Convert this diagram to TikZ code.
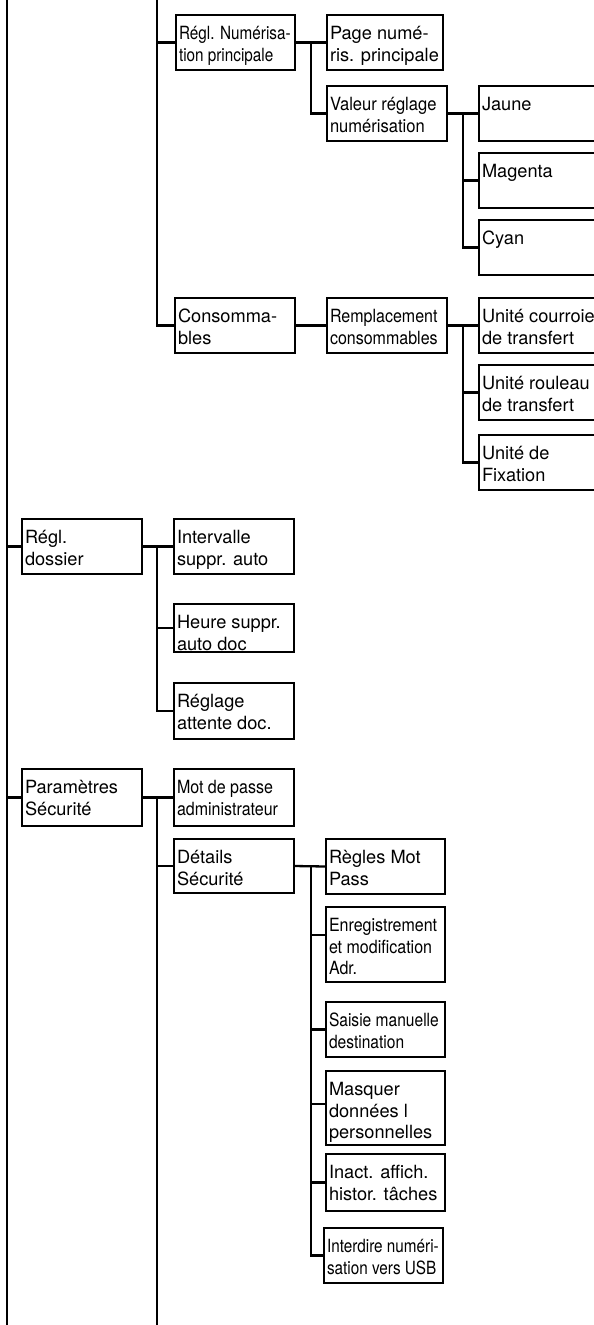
\documentclass[tikz,border=0pt]{standalone}
\usepackage{fontspec}
\setmainfont{TeX Gyre Heros}
\newfontfamily\cnda[FakeStretch=0.84]{TeX Gyre Heros}
\newfontfamily\cndb[FakeStretch=0.88]{TeX Gyre Heros}
\newfontfamily\cndc[FakeStretch=0.91]{TeX Gyre Heros}
\newfontfamily\cndd[FakeStretch=0.855]{TeX Gyre Heros}
\usetikzlibrary{calc}
\newcommand\bt[3]{\parbox[t][#2pt][t]{#1pt}{\raggedright\hyphenpenalty=10000\rule{0pt}{24.5pt}#3}}
\tikzset{
  box/.style={draw, line width=2.3pt, anchor=north west, inner xsep=3pt, inner ysep=0pt, outer sep=0pt,
    font=\fontsize{18.2pt}{21.5pt}\selectfont},
  wire/.style={line width=2.3pt}
}
\begin{document}
\begin{tikzpicture}[x=1pt,y=-1pt]
\useasboundingbox (0,0) rectangle (594,1325);
\clip (0,0) rectangle (594,1325);
% boxes
\node[box] (rn) at (176,15) {\bt{113}{55}{\cnda Régl. Numérisa-\\tion principale}};
\node[box] (pn) at (327,15) {\bt{110}{55}{Page numé-\\ris. principale}};
\node[box] (vr) at (327,86) {\bt{114}{55}{\cndc Valeur réglage\\numérisation}};
\node[box] (ja) at (479,86) {\bt{124}{55}{Jaune}};
\node[box] (mg) at (479,153) {\bt{124}{55}{Magenta}};
\node[box] (cy) at (479,220) {\bt{124}{55}{Cyan}};
\node[box] (co) at (175,298) {\bt{114}{55}{Consomma-\\bles}};
\node[box] (rc) at (327,298) {\bt{114}{55}{\cndb Remplacement\\consommables}};
\node[box] (u1) at (479,298) {\bt{124}{55}{Unité courroie\\de transfert}};
\node[box] (u2) at (479,365) {\bt{124}{55}{Unité rouleau\\de transfert}};
\node[box] (u3) at (479,435) {\bt{124}{55}{Unité de\\Fixation}};
\node[box] (rd) at (22,519) {\bt{114}{55}{Régl.\\dossier}};
\node[box] (iv) at (174,519) {\bt{114}{55}{Intervalle\\suppr. auto}};
\node[box] (hs) at (174,604) {\bt{114}{48}{Heure suppr.\\auto doc}};
\node[box] (ra) at (174,683) {\bt{114}{56}{Réglage\\attente doc.}};
\node[box] (ps) at (22,769) {\bt{114}{57}{Paramètres\\Sécurité}};
\node[box] (mp) at (174,769) {\bt{114}{57}{\cndb Mot de passe\\administrateur}};
\node[box] (ds) at (174,839) {\bt{114}{54}{Détails\\Sécurité}};
\node[box] (rm) at (326,839) {\bt{113}{55}{Règles Mot\\Pass}};
\node[box] (en) at (326,907) {\bt{113}{75}{\cndb Enregistrement\\et modification\\Adr.}};
\node[box] (sm) at (326,1002) {\bt{113}{55}{\cndd Saisie manuelle\\destination}};
\node[box] (md) at (326,1071) {\bt{113}{74}{Masquer\\données l\\personnelles}};
\node[box] (ia) at (326,1154) {\bt{113}{57}{Inact. affich.\\histor. tâches}};
\node[box] (ib) at (324,1228) {\bt{113}{55}{\cnda Interdire numéri-\\sation vers USB}};
% bus coordinates
\coordinate (sp0) at (7,0);
\coordinate (sp1) at (7,1325);
\coordinate (b0) at (157,0);
\coordinate (bb) at (157,1325);
\coordinate (b1) at (311,0);
\coordinate (b2) at (463,0);
\coordinate (enc) at ([yshift=-28pt]en.north west);
\coordinate (mdc) at ([yshift=-33pt]md.north west);
% connectors
\draw[wire] (sp0) -- (sp1);
\draw[wire] (sp0) |- (rd.west);
\draw[wire] (sp0) |- (ps.west);
\draw[wire] (b0) |- (rn.west);
\draw[wire] (b0) |- (co.west);
\draw[wire] (rn.east) -- (pn.west);
\draw[wire] (rn.east -| b1) |- (vr.west);
\draw[wire] (vr.east) -- (ja.west);
\draw[wire] (vr.east -| b2) |- (cy.west);
\draw[wire] (b2 |- mg.west) -- (mg.west);
\draw[wire] (co.east) -- (rc.west);
\draw[wire] (rc.east) -- (u1.west);
\draw[wire] (rc.east -| b2) |- (u3.west);
\draw[wire] (b2 |- u2.west) -- (u2.west);
\draw[wire] (rd.east) -- (iv.west);
\draw[wire] (rd.east -| b0) |- (ra.west);
\draw[wire] (b0 |- hs.west) -- (hs.west);
\draw[wire] (ps.east) -- (mp.west);
\draw[wire] (ps.east -| b0) -- (bb);
\draw[wire] (b0 |- ds.west) -- (ds.west);
\draw[wire] (ds.east) -- (rm.west);
\draw[wire] (ds.east -| b1) |- (ib.west);
\draw[wire] (b1 |- enc) -- (enc);
\draw[wire] (b1 |- sm.west) -- (sm.west);
\draw[wire] (b1 |- mdc) -- (mdc);
\draw[wire] (b1 |- ia.west) -- (ia.west);
\end{tikzpicture}
\end{document}
